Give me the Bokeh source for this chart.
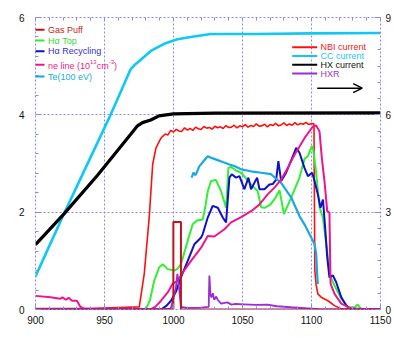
from bokeh.plotting import figure
from bokeh.models import Range1d, LinearAxis, FixedTicker, Grid, Label, Arrow, OpenHead
from bokeh.embed import file_html
from bokeh.resources import INLINE

# ---------------- data (left axis units) ----------------
gas_t = [900, 999.9, 999.9, 1005.4, 1005.4, 1150]
gas_v = [0.0, 0.0, 1.8, 1.8, 0.0, 0.0]

hat_t = [900, 980, 983, 986, 989.7, 992.2, 995.8, 1000.6, 1003, 1005.4, 1010.3, 1013.9, 1017, 1021.2,
         1023, 1024.8, 1027.2, 1030.8, 1034.5, 1038.1, 1039.8, 1041.7, 1045, 1049, 1056.2, 1061, 1063.5,
         1066, 1070, 1074, 1076.8, 1078.5, 1080, 1085.3, 1091.3, 1095, 1097.4, 1100.3, 1101.5, 1103.4,
         1105.8, 1108.3, 1111.9, 1113.5, 1115.5, 1121.6, 1126.5, 1131, 1133.5, 1136, 1150]
hat_v = [0.0, 0.0, 0.2, 0.59, 0.87, 0.93, 0.83, 0.80, 0.84, 0.93, 1.41, 1.75, 1.83, 1.85,
         2.1, 2.43, 2.64, 2.66, 2.43, 2.09, 2.91, 2.93, 2.86, 2.81, 2.57, 2.43, 2.1,
         2.09, 2.15, 2.3, 2.45, 2.2, 1.96, 2.3, 2.71, 3.1, 3.15, 3.36, 3.25, 2.8,
         2.1, 1.89, 1.07, 0.7, 0.56, 0.22, 0.05, 0.04, 0.1, 0.01, 0.0]

har_t = [900, 991, 995, 998.2, 1002, 1005.4, 1010.3, 1015.1, 1020, 1021.2, 1024.8, 1028.4, 1032.1, 1035.7,
         1038.1, 1040.5, 1042.2, 1045.3, 1047.8, 1051.4, 1054.3, 1056.2, 1060.6, 1062.3, 1065.9, 1069.5,
         1072, 1074.4, 1076, 1078, 1081.6, 1086.5, 1088.9, 1091.3, 1094.9, 1097.4, 1100.5, 1102.2, 1104.6,
         1106.5, 1108.3, 1109.9, 1111.4, 1113, 1115.5, 1117.9, 1121.6, 1125.2, 1128.8, 1150]
har_v = [0.0, 0.0, 0.08, 0.18, 0.38, 0.66, 1.0, 1.34, 1.48, 1.55, 1.89, 2.13, 2.09, 1.89,
         1.79, 2.71, 2.78, 2.71, 2.74, 2.47, 2.71, 2.47, 2.71, 2.47, 2.47, 2.57,
         2.58, 2.67, 3.05, 2.64, 2.81, 3.15, 3.32, 3.22, 2.91, 2.74, 2.81, 2.64, 2.37,
         2.09, 2.26, 1.68, 1.07, 0.66, 0.70, 0.56, 0.25, 0.08, 0.0, 0.0]

ne_t = [900, 911, 918, 919.5, 922, 924, 926.5, 930, 932.4, 935, 983.7, 987, 991, 995.8, 999.4, 1003,
        1006.7, 1012.7, 1020, 1024.8, 1029.6, 1036.9, 1041.7, 1049, 1056.2, 1062, 1068.4, 1073, 1078,
        1083, 1087.7, 1094.9, 1101, 1103.4, 1105.8, 1107.5, 1109.4, 1111.4, 1113, 1113.8, 1116.7,
        1121.6, 1128.8, 1150]
ne_v = [0.28, 0.25, 0.22, 0.25, 0.20, 0.24, 0.18, 0.18, 0.06, 0.02, 0.01, 0.06, 0.18, 0.35, 0.53, 0.59,
        0.76, 1.0, 1.27, 1.51, 1.50, 1.65, 1.79, 1.90, 2.02, 2.15, 2.37, 2.5, 2.67,
        2.92, 3.18, 3.52, 3.76, 3.78, 3.66, 3.11, 2.64, 2.02, 1.99, 0.53, 0.32,
        0.12, 0.02, 0.0]

te_t = [1013.1, 1014.5, 1016, 1018.7, 1021, 1024.8, 1028, 1031, 1035.7, 1040.5, 1044, 1049, 1056,
        1063.5, 1070.7, 1078, 1085.3, 1091.3, 1094.9, 1099.8, 1102.2, 1103.4, 1104.1, 1104.6]
te_v = [2.71, 2.81, 2.76, 2.94, 3.02, 3.15, 3.11, 3.08, 3.03, 2.98, 2.95, 2.88, 2.84,
        2.81, 2.78, 2.60, 2.30, 1.92, 1.75, 1.48, 1.34, 1.14, 0.73, 0.52]

# ---------------- data (right axis units) ----------------
nbi_t = [900, 940, 975.2, 978.8, 982.4, 984.9, 987.3, 990.9,
         992, 994, 996, 998, 1000, 1002, 1004, 1006, 1008, 1010, 1012, 1014, 1016, 1018, 1020,
         1022, 1024, 1026, 1028, 1030, 1032, 1034, 1036, 1038, 1040, 1042, 1044, 1046, 1048, 1050,
         1052, 1054, 1056, 1058, 1060, 1062, 1064, 1066, 1068, 1070, 1072, 1074, 1076, 1078, 1080,
         1082, 1084, 1086, 1088, 1090, 1092, 1094, 1096, 1098, 1100,
         1101.8, 1102.4, 1103.4, 1104.6, 1107, 1111.9, 1116.7, 1121, 1150]
nbi_v = [0.03, 0.03, 0.08, 1.1, 2.84, 4.47, 4.98, 5.28,
         5.33, 5.41, 5.38, 5.52, 5.47, 5.55, 5.50, 5.49, 5.60, 5.53, 5.58, 5.52, 5.62, 5.57, 5.55,
         5.64, 5.59, 5.61, 5.56, 5.65, 5.60, 5.63, 5.58, 5.67, 5.61, 5.62, 5.68, 5.60, 5.66, 5.63,
         5.70, 5.62, 5.67, 5.64, 5.72, 5.65, 5.66, 5.71, 5.63, 5.70, 5.67, 5.74, 5.66, 5.69, 5.75,
         5.67, 5.72, 5.68, 5.76, 5.69, 5.73, 5.71, 5.77, 5.70, 5.73,
         5.72, 1.2, 0.75, 0.48, 0.38, 0.27, 0.12, 0.03, 0.02]

cc_t = [900, 920.5, 954.4, 959, 969, 971.4, 983.6, 993.2, 1002.9, 1012.5, 1027, 1060, 1100, 1150]
cc_v = [1.02, 2.94, 6.0, 6.44, 7.41, 7.52, 7.97, 8.19, 8.33, 8.40, 8.49, 8.49, 8.51, 8.52]

hx_t = [900, 920.5, 944.8, 969, 973.9, 977.5, 983.5, 989.5, 1000, 1030, 1150]
hx_v = [2.0, 2.94, 4.13, 5.4, 5.66, 5.76, 5.84, 5.97, 6.03, 6.05, 6.06]

hxr_t = [900, 998, 999.5, 1001.8, 1002.8, 1003.5, 1005.4, 1010, 1020, 1025.5, 1026, 1026.8, 1027.5,
         1028.5, 1029.5, 1031, 1032, 1034.5, 1039, 1042, 1045, 1051, 1060, 1068, 1075, 1085, 1100,
         1105, 1150]
hxr_v = [0.02, 0.03, 0.27, 0.69, 1.1, 0.9, 0.08, 0.05, 0.06, 0.08, 1.05, 0.45, 0.37,
         0.5, 0.3, 0.4, 0.3, 0.18, 0.22, 0.15, 0.17, 0.16, 0.14, 0.15, 0.1, 0.07, 0.03,
         0.01, 0.0]

x_ticks = [900, 950, 1000, 1050, 1100, 1150]
left_ticks = [0, 2, 4, 6]
right_ticks = [0, 3, 6, 9]

# ---------------- styles ----------------
FONT = "Liberation Sans"
AX = "#8a8aea"
C_GAS, C_HAT, C_HAR, C_NE, C_TE = "#c0141e", "#33ee33", "#1010c8", "#f0148c", "#1aa8e2"
C_NBI, C_CC, C_HX, C_HXR = "#ff1010", "#10c8f2", "#000000", "#9a2ed0"

p = figure(width=394, height=338, x_range=Range1d(900, 1150), y_range=Range1d(0, 6),
           output_backend="svg", toolbar_location=None, x_axis_type=None, y_axis_type=None,
           min_border_left=35, min_border_right=14, min_border_top=17, min_border_bottom=29)
p.extra_y_ranges = {"r": Range1d(0, 9)}
p.outline_line_color = None
p.background_fill_color = "white"
p.border_fill_color = "white"

x_minor = [900 + 10 * i for i in range(26)]
xt = FixedTicker(ticks=x_ticks, minor_ticks=x_minor)
top_t = FixedTicker(ticks=[], minor_ticks=x_minor)
lt = FixedTicker(ticks=left_ticks, minor_ticks=[0.4 * i for i in range(16)])
rt = FixedTicker(ticks=right_ticks, minor_ticks=[0.5 * i for i in range(19)])


def style(ax):
    ax.axis_line_color = AX
    ax.axis_line_dash = "2 2"
    ax.axis_line_width = 1
    ax.major_tick_line_color = AX
    ax.minor_tick_line_color = AX
    ax.major_tick_in = 6
    ax.major_tick_out = 0
    ax.minor_tick_in = 3
    ax.minor_tick_out = 0
    ax.major_label_text_font = FONT
    ax.major_label_text_font_size = "10px"
    ax.major_label_text_color = "#111111"
    ax.major_label_text_font_style = "normal"


bax = LinearAxis(ticker=xt)
style(bax)
bax.major_label_standoff = 6
p.add_layout(bax, "below")

tax = LinearAxis(ticker=top_t)
style(tax)
tax.minor_tick_in = 3
tax.major_label_standoff = 0
p.add_layout(tax, "above")

lax = LinearAxis(ticker=lt)
style(lax)
lax.major_label_standoff = 11
p.add_layout(lax, "left")

rax = LinearAxis(ticker=rt, y_range_name="r")
style(rax)
rax.major_label_standoff = 5
p.add_layout(rax, "right")

for dim, tk in ((0, FixedTicker(ticks=x_ticks)), (1, FixedTicker(ticks=left_ticks))):
    g = Grid(dimension=dim, ticker=tk)
    g.grid_line_color = AX
    g.grid_line_dash = "2 2"
    g.grid_line_width = 1
    p.add_layout(g)

# ---------------- curves ----------------
p.line(cc_t, cc_v, y_range_name="r", line_color=C_CC, line_width=2.6)
p.line(hx_t, hx_v, y_range_name="r", line_color=C_HX, line_width=3.2)
p.line(nbi_t, nbi_v, y_range_name="r", line_color=C_NBI, line_width=1.6)
p.line(hat_t, hat_v, line_color=C_HAT, line_width=2)
p.line(har_t, har_v, line_color=C_HAR, line_width=2)
p.line(te_t, te_v, line_color=C_TE, line_width=2.2)
p.line(ne_t, ne_v, line_color=C_NE, line_width=2)
p.line(hxr_t, hxr_v, y_range_name="r", line_color=C_HXR, line_width=1.8)
p.line(gas_t, gas_v, line_color=C_GAS, line_width=2)

# ---------------- legends (pixel -> data helpers) ----------------
def tx(px):
    return 900 + (px - 35) * 250.0 / 345.0


def vy(py):
    return (309 - py) * 6.0 / 292.0


def leg_line(x0, x1, py, color):
    p.add_layout(Arrow(end=None, x_start=tx(x0), y_start=vy(py), x_end=tx(x1), y_end=vy(py),
                       line_color=color, line_width=2))


def lab(px, py, text, color, size="9px", align="left"):
    p.add_layout(Label(x=tx(px), y=vy(py), text=text, text_color=color, text_font=FONT,
                       text_font_size=size, text_baseline="middle", text_align=align))


left_rows = [("Gas Puff", C_GAS, "#cc2222", 29.3), ("H\u03b1 Top", C_HAT, "#33dd33", 40),
             ("H\u03b1 Recycling", C_HAR, "#3333cc", 50.7), (None, C_NE, "#ee2288", 64.3),
             ("Te(100 eV)", C_TE, "#22aadd", 76)]
for text, lc, tc, py in left_rows:
    leg_line(18, 44, py, lc)
    if text is not None:
        lab(47.5, py, text, tc)
# ne line with superscripts
lab(47.5, 65.5, "ne line (10", "#ee2288")
lab(89.5, 61.5, "13", "#ee2288", size="6px")
lab(96.2, 65.5, "cm", "#ee2288")
lab(108.2, 61.5, "-3", "#ee2288", size="6px")
lab(113.5, 65.5, ")", "#ee2288")

right_rows = [("NBI current", C_NBI, "#ee2222", 46.7), ("CC current", C_CC, "#22c8ee", 55.5),
              ("HX current", C_HX, "#111111", 64.3), ("HXR", C_HXR, "#9933cc", 73)]
for text, lc, tc, py in right_rows:
    leg_line(291.7, 316.7, py, lc)
    lab(320, py, text, tc)

p.add_layout(Arrow(end=OpenHead(size=9, line_color="black", line_width=1.5),
                   x_start=tx(316.7), y_start=vy(87.7), x_end=tx(361.7), y_end=vy(87.7),
                   line_color="black", line_width=1.5))

lab(207, 329, "time (ms)", "#111111", size="10px", align="center")

open("out.html", "w").write(file_html(p, INLINE))
